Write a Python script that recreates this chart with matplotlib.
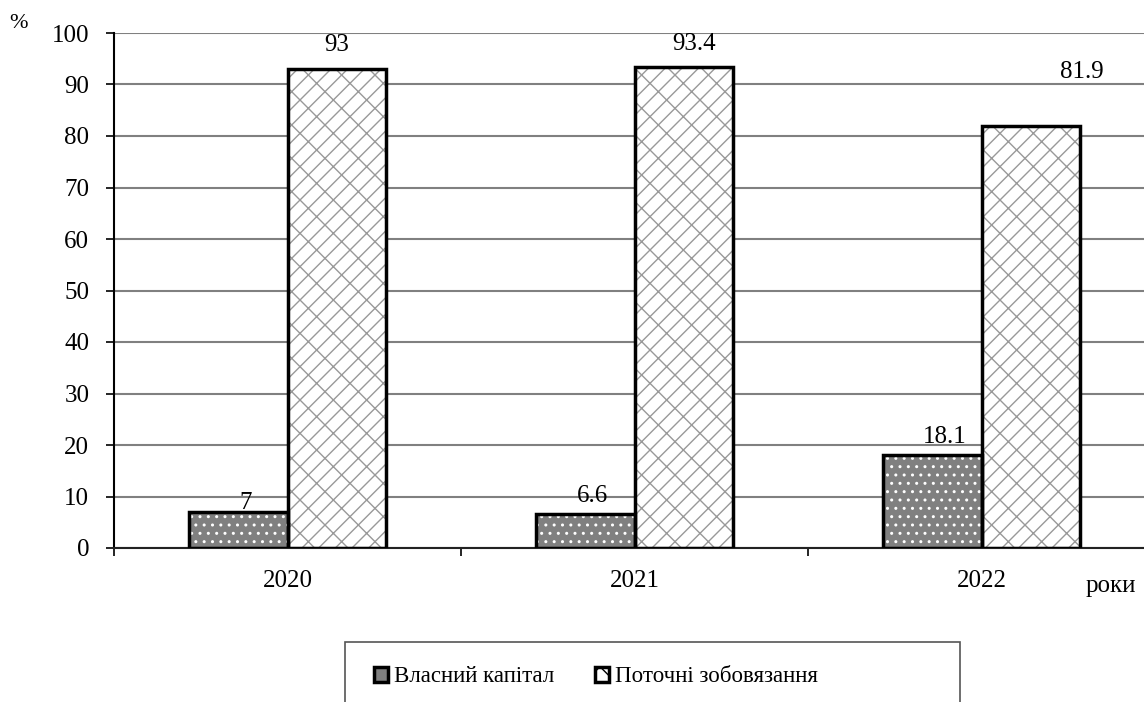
import numpy as np
import matplotlib.pyplot as plt
from matplotlib.patches import Patch, Rectangle

plt.rcParams['font.family'] = ['Liberation Serif', 'DejaVu Serif']
plt.rcParams['hatch.linewidth'] = 1.0

years = ['2020', '2021', '2022']
own_capital = [7, 6.6, 18.1]
current_liab = [93, 93.4, 81.9]
series_names = ['Власний капітал', 'Поточні зобовязання']

# label offsets (px) relative to the top centre of each bar
own_offsets = [(8, 9), (7, 18), (13, 18)]
liab_offsets = [(0, 24), (10, 23), (51, 54)]

W, H = 1144, 702
fig = plt.figure(figsize=(W / 100, H / 100), dpi=100)
ax = fig.add_axes([114 / W, 154 / H, 1041 / W, 515 / H])

x = np.arange(len(years)) + 0.5
bw = 0.285
px = 0.72  # points per pixel at dpi 100

# fill + hatch first, black outline on top
ax.bar(x - bw / 2, own_capital, bw, color='#808080', edgecolor='white',
       hatch='..', linewidth=0, zorder=2)
ax.bar(x - bw / 2, own_capital, bw, fill=False, edgecolor='black',
       linewidth=2.5, zorder=3)
ax.bar(x + bw / 2, current_liab, bw, color='white', edgecolor='#999999',
       hatch='//\\', linewidth=0, zorder=2)
ax.bar(x + bw / 2, current_liab, bw, fill=False, edgecolor='black',
       linewidth=2.5, zorder=3)

for xi, v, (dx, dy) in zip(x - bw / 2, own_capital, own_offsets):
    ax.annotate(f'{v:g}', (xi, v), xytext=(dx * px, dy * px),
                textcoords='offset points', ha='center', va='center',
                fontsize=18, zorder=4)
for xi, v, (dx, dy) in zip(x + bw / 2, current_liab, liab_offsets):
    ax.annotate(f'{v:g}', (xi, v), xytext=(dx * px, dy * px),
                textcoords='offset points', ha='center', va='center',
                fontsize=18, zorder=4, annotation_clip=False)

ax.set_xlim(0, 3)
ax.set_ylim(0, 100)
ax.set_yticks(np.arange(0, 101, 10))
ax.tick_params(axis='y', direction='out', length=8 * px, width=1.2,
               pad=12, labelsize=18)
ax.set_xticks([0, 1, 2, 3])
ax.set_xticklabels([])
ax.set_xticks(x, minor=True)
ax.set_xticklabels(years, minor=True)
ax.tick_params(axis='x', which='major', direction='out', length=8 * px, width=1.2)
ax.tick_params(axis='x', which='minor', length=0, pad=16, labelsize=18)

ax.set_axisbelow(True)
ax.yaxis.grid(True, color='#808080', linewidth=1.5)
for s in ['top', 'right']:
    ax.spines[s].set_visible(False)
ax.spines['left'].set_linewidth(1.5)
ax.spines['bottom'].set_linewidth(1.5)
ax.spines['bottom'].set_color('#222222')

fig.text(19 / W, 1 - 24 / H, '%', fontsize=16, ha='center', va='center')
fig.text(1111 / W, 1 - 586 / H, 'роки', fontsize=18, ha='center', va='center')

# legend frame runs off the bottom edge
fig.patches.append(Rectangle((345 / W, -0.05), 615 / W, 0.05 + 60 / H,
                             transform=fig.transFigure, fill=False,
                             edgecolor='#555555', linewidth=1.2))
handles = [Patch(facecolor='#808080', edgecolor='black', linewidth=2.5),
           Patch(facecolor='white', edgecolor='black', linewidth=2.5, hatch='x')]
fig.legend(handles, series_names, loc='center', ncol=2,
           bbox_to_anchor=(596 / W, 1 - 677 / H), frameon=False,
           fontsize=16.5, handlelength=0.6, handleheight=0.6,
           handletextpad=0.25, columnspacing=1.8)

fig.savefig('out.png', dpi=100)
